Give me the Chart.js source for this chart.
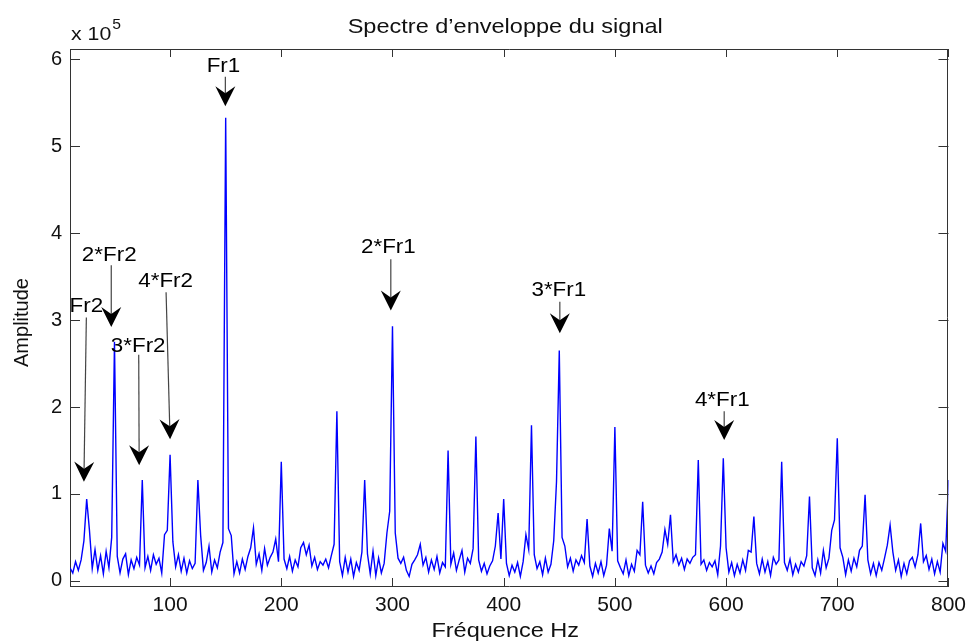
<!DOCTYPE html>
<html>
<head>
<meta charset="utf-8">
<script src="https://cdn.jsdelivr.net/npm/chart.js@4.4.0/dist/chart.umd.min.js"></script>
<style>
html,body{margin:0;padding:0;background:#fff;}
#wrap{width:973px;height:641px;position:relative;}
</style>
</head>
<body>
<div id="wrap"><canvas id="c" width="973" height="641"></canvas></div>
<script>
// ---- data (amplitude in units of 1e5) ----
const freqStartHz = 10;
const freqStepHz = 2.5;
const amplitudeE5 = [
  0.15,0.09,0.22,0.12,0.24,0.46,0.94,0.58,0.14,0.36,
  0.12,0.29,0.08,0.34,0.15,0.50,2.75,0.28,0.09,0.25,
  0.31,0.07,0.24,0.14,0.27,0.18,1.16,0.15,0.28,0.12,
  0.30,0.19,0.26,0.09,0.53,0.58,1.45,0.45,0.16,0.30,
  0.11,0.26,0.09,0.23,0.14,0.20,1.16,0.52,0.12,0.21,
  0.40,0.10,0.24,0.15,0.33,0.44,5.33,0.60,0.52,0.08,
  0.22,0.09,0.25,0.13,0.28,0.38,0.61,0.19,0.31,0.12,
  0.37,0.18,0.27,0.33,0.48,0.22,1.37,0.25,0.14,0.28,
  0.11,0.24,0.16,0.38,0.44,0.30,0.41,0.17,0.27,0.13,
  0.22,0.18,0.25,0.15,0.29,0.42,1.95,0.22,0.06,0.27,
  0.10,0.25,0.05,0.21,0.12,0.33,1.16,0.31,0.08,0.34,
  0.06,0.26,0.09,0.20,0.55,0.80,2.93,0.55,0.26,0.20,
  0.27,0.12,0.05,0.19,0.24,0.30,0.42,0.18,0.27,0.10,
  0.24,0.13,0.28,0.09,0.21,0.16,1.50,0.19,0.32,0.12,
  0.24,0.35,0.10,0.26,0.20,0.37,1.66,0.24,0.11,0.20,
  0.08,0.17,0.23,0.40,0.78,0.25,0.94,0.20,0.06,0.18,
  0.10,0.21,0.05,0.22,0.53,0.36,1.79,0.30,0.14,0.22,
  0.07,0.26,0.10,0.19,0.46,1.14,2.65,0.50,0.40,0.16,
  0.26,0.11,0.24,0.18,0.29,0.21,0.71,0.17,0.05,0.20,
  0.09,0.22,0.06,0.18,0.60,0.34,1.77,0.23,0.15,0.08,
  0.24,0.06,0.19,0.11,0.35,0.30,0.91,0.18,0.09,0.17,
  0.08,0.21,0.25,0.33,0.59,0.42,0.76,0.22,0.30,0.18,
  0.26,0.13,0.25,0.20,0.27,0.30,1.39,0.19,0.24,0.12,
  0.21,0.16,0.23,0.07,0.40,1.41,0.38,0.10,0.21,0.06,
  0.19,0.09,0.24,0.12,0.35,0.33,0.74,0.20,0.08,0.25,
  0.10,0.22,0.06,0.27,0.19,0.24,1.37,0.21,0.12,0.25,
  0.07,0.19,0.10,0.22,0.17,0.29,0.97,0.15,0.06,0.24,
  0.09,0.35,0.15,0.26,0.58,0.70,1.64,0.38,0.27,0.07,
  0.24,0.11,0.26,0.16,0.35,0.40,0.99,0.24,0.08,0.20,
  0.06,0.21,0.12,0.26,0.41,0.64,0.33,0.12,0.24,0.05,
  0.20,0.08,0.23,0.27,0.16,0.30,0.66,0.22,0.29,0.13,
  0.25,0.08,0.22,0.10,0.43,0.34,1.16
];
const xTickValues = [100,200,300,400,500,600,700,800];
const yTickValues = [0,1,2,3,4,5,6];
const xRange = [10, 800];
const yRange = [-0.06, 6.12];

const titleText = "Spectre d\u2019enveloppe du signal";
const xTitleText = "Fréquence Hz";
const yTitleText = "Amplitude";
const exponentBase = "x 10";
const exponentPower = "5";

// annotation labels and arrows, in data coordinates (Hz, 1e5)
const annotationLabels = ['Fr2','2*Fr2','3*Fr2','4*Fr2','Fr1','2*Fr1','3*Fr1','4*Fr1'];
const annotationText = [[24.7,3.09],[45.3,3.68],[71.3,2.63],[96,3.38],[148,5.85],[296.3,3.77],[449.6,3.28],[596.6,2.01]];
const arrowTail = [[24.7,3.03],[47.1,3.63],[71.8,2.60],[96.4,3.32],[149.7,5.80],[298.5,3.70],[450.5,3.21],[598.3,1.95]];
const arrowTip  = [[22.5,1.14],[47.1,2.92],[72.2,1.33],[100,1.63],[149.7,5.46],[298.5,3.11],[450.5,2.85],[598.3,1.62]];

// ---- build ----
const points = amplitudeE5.map((v, i) => ({x: freqStartHz + i * freqStepHz, y: v}));
const FONT = "'Liberation Sans', Arial, Helvetica, sans-serif";
const AXIS_COLOR = '#333';
const STRETCH = 1.12;

function stretchedText(ctx, text, x, y, size, align) {
  ctx.save();
  ctx.font = size + 'px ' + FONT;
  ctx.textBaseline = 'alphabetic';
  const w = ctx.measureText(text).width * STRETCH;
  let left = x;
  if (align === 'center') left = x - w / 2;
  else if (align === 'right') left = x - w;
  ctx.translate(left, y);
  ctx.scale(STRETCH, 1);
  ctx.textAlign = 'left';
  ctx.fillText(text, 0, 0);
  ctx.restore();
}

function drawArrow(ctx, x0, y0, x1, y1) {
  const dx = x1 - x0, dy = y1 - y0;
  const len = Math.hypot(dx, dy);
  const ux = dx / len, uy = dy / len;
  const nx = -uy, ny = ux;
  const L = 20, W = 10, N = 7;
  const bx = x1 - ux * L, by = y1 - uy * L;
  const mx = x1 - ux * (L - N), my = y1 - uy * (L - N);
  ctx.strokeStyle = '#444';
  ctx.lineWidth = 1.2;
  ctx.beginPath();
  ctx.moveTo(x0, y0);
  ctx.lineTo(mx, my);
  ctx.stroke();
  ctx.fillStyle = '#000';
  ctx.beginPath();
  ctx.moveTo(x1, y1);
  ctx.lineTo(bx + nx * W, by + ny * W);
  ctx.lineTo(mx, my);
  ctx.lineTo(bx - nx * W, by - ny * W);
  ctx.closePath();
  ctx.fill();
}

const framePlugin = {
  id: 'matlabFrame',
  afterDraw(chart) {
    const {ctx, chartArea: a, scales: {x, y}} = chart;
    ctx.save();
    // box top and right
    ctx.strokeStyle = AXIS_COLOR;
    ctx.lineWidth = 1;
    ctx.beginPath();
    ctx.moveTo(a.left, Math.round(a.top) + 0.5);
    ctx.lineTo(a.right, Math.round(a.top) + 0.5);
    ctx.moveTo(Math.round(a.right) - 0.5, a.top);
    ctx.lineTo(Math.round(a.right) - 0.5, a.bottom);
    ctx.stroke();
    // inward ticks
    ctx.beginPath();
    xTickValues.forEach(v => {
      const px = Math.round(x.getPixelForValue(v)) + 0.5;
      ctx.moveTo(px, a.bottom); ctx.lineTo(px, a.bottom - 8);
      ctx.moveTo(px, a.top); ctx.lineTo(px, a.top + 8);
    });
    yTickValues.forEach(v => {
      const py = Math.round(y.getPixelForValue(v)) + 0.5;
      ctx.moveTo(a.left, py); ctx.lineTo(a.left + 10, py);
      ctx.moveTo(a.right, py); ctx.lineTo(a.right - 10, py);
    });
    ctx.stroke();

    // titles
    ctx.fillStyle = '#111';
    stretchedText(ctx, titleText, (a.left + a.right) / 2 - 4, 33, 21, 'center');
    stretchedText(ctx, xTitleText, (a.left + a.right) / 2 - 4, 637, 21, 'center');
    ctx.save();
    ctx.translate(28, (a.top + a.bottom) / 2 + 5);
    ctx.rotate(-Math.PI / 2);
    ctx.font = '20px ' + FONT;
    ctx.textAlign = 'center';
    ctx.textBaseline = 'alphabetic';
    ctx.fillText(yTitleText, 0, 0);
    ctx.restore();
    // exponent
    stretchedText(ctx, exponentBase, a.left + 1, 40, 19, 'left');
    ctx.font = '19px ' + FONT;
    const ew = ctx.measureText(exponentBase).width * STRETCH;
    stretchedText(ctx, exponentPower, a.left + 2 + ew, 29, 14, 'left');

    // annotations
    annotationLabels.forEach((lab, i) => {
      const tx = x.getPixelForValue(annotationText[i][0]);
      const ty = y.getPixelForValue(annotationText[i][1]);
      ctx.fillStyle = '#000';
      stretchedText(ctx, lab, tx, ty, 20, 'center');
      drawArrow(ctx,
        x.getPixelForValue(arrowTail[i][0]), y.getPixelForValue(arrowTail[i][1]),
        x.getPixelForValue(arrowTip[i][0]), y.getPixelForValue(arrowTip[i][1]));
    });
    ctx.restore();
  }
};

new Chart(document.getElementById('c'), {
  type: 'line',
  data: {
    datasets: [{
      data: points,
      borderColor: '#0000ff',
      borderWidth: 1.4,
      pointRadius: 0,
      tension: 0,
      fill: false
    }]
  },
  options: {
    responsive: false,
    animation: false,
    devicePixelRatio: 1,
    layout: {padding: {top: 49, right: 22, left: 0, bottom: 0}},
    plugins: {legend: {display: false}, tooltip: {enabled: false}, title: {display: false}},
    scales: {
      x: {
        type: 'linear',
        min: xRange[0], max: xRange[1],
        afterBuildTicks: s => { s.ticks = xTickValues.map(v => ({value: v})); },
        afterFit: s => { s.height = 55; },
        grid: {display: false, drawTicks: false},
        border: {display: true, color: AXIS_COLOR, width: 1},
        ticks: {font: {family: FONT, size: 21}, color: '#111', padding: 7, maxRotation: 0, autoSkip: false}
      },
      y: {
        type: 'linear',
        min: yRange[0], max: yRange[1],
        afterBuildTicks: s => { s.ticks = yTickValues.map(v => ({value: v})); },
        afterFit: s => { s.width = 70; },
        grid: {display: false, drawTicks: false},
        border: {display: true, color: AXIS_COLOR, width: 1},
        ticks: {font: {family: FONT, size: 20}, color: '#111', padding: 8, autoSkip: false}
      }
    }
  },
  plugins: [framePlugin]
});
</script>
</body>
</html>
